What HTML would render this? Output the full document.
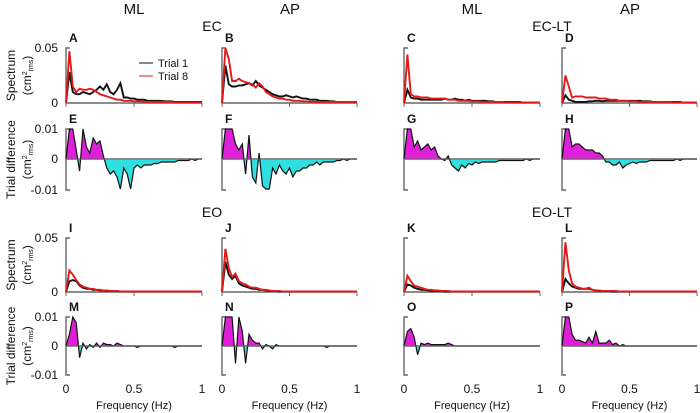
<!DOCTYPE html>
<html><head><meta charset="utf-8"><style>
body{margin:0;background:#fff}
svg{display:block;font-family:"Liberation Sans",sans-serif}
</style></head><body>
<svg id="fig" width="700" height="413" viewBox="0 0 700 413">
<g id="static" font-size="15" fill="#111" text-anchor="middle">
<text x="134" y="14">ML</text>
<text x="290" y="14">AP</text>
<text x="472" y="14">ML</text>
<text x="630" y="14">AP</text>
<text x="212" y="31" font-size="14">EC</text>
<text x="552" y="31" font-size="14">EC-LT</text>
<text x="212" y="217" font-size="14">EO</text>
<text x="552" y="217" font-size="14">EO-LT</text>
</g>
</svg>
<script>
// values in units of 1e-3 cm^2, frequency 0..1 step 0.025
const freqs = Array.from({length:41},(_,i)=>i*0.025);
const specA1=[0,28,10,8,8,10,9,8,10,12,15,12,17,10,8,12,18,5,5,4,4,3,3,3,2,2,2,2,2,1.5,1.5,1.5,1,1,1,1,1,1,1,1,1];
const specA8=[0,47,15,10,13,12,12,13,12,10,8,7,6,5,4,3,3,2,2,2,1.5,1.5,1.5,1,1,1,1,1,1,1,1,1,0.5,0.5,0.5,0.5,0.5,0.5,0.5,0.5,0.5];
const specB1=[0,34,17,15,15,16,16,17,18,16,20,16,14,12,10,8,7,6,6,7,6,5,6,5,4,4,3,3,3,2,2,2,1.5,1.5,1,1,1,1,1,1,1];
const specB8=[0,50,40,20,20,22,20,19,18,17,14,18,15,10,8,6,5,4,4,3,3,2,2,2,1.5,1.5,1,1,1,1,1,1,1,1,1,1,1,1,1,1,1];
const specC1=[0,12,5,4,4,3,3,3,3,3,3,3,4,3,3,4,3,3,2,3,2,2,2,2,2,1.5,1.5,1,1,1,1,1,1,1,1,0.5,0.5,0.5,0.5,0.5,0.5];
const specC8=[0,44,8,6,6,5,5,5,4,4,4,4,4,3,3,3,2,2,2,2,1.5,1.5,1.5,1,1,1,1,1,1,1,0.5,0.5,0.5,0.5,0.5,0.5,0.5,0.5,0.5,0.5,0.5];
const specD1=[0,7,3,2,1,1,1,1,1.5,1.5,2,2,1.5,2,2,2,2,2,2,2,2,2,2,2,1.5,1.5,1.5,1,1,1,1,1,1,1,1,1,0.5,0.5,0.5,0.5,0.5];
const specD8=[0,25,15,5,6,6,6,5,5,5,5,4,4,4,3,3,3,2,2,2,1.5,1.5,1.5,1,1,1,1,1,1,1,1,1,1,0.5,0.5,0.5,0.5,0.5,0.5,0.5,0.5];
const specI1=[0,10,11,10,6,4,3,3,2,2,1.5,1.5,1,1,1,1,0.5,0.5,0.5,0.5,0.5,0.5,0.5,0.5,0.5,0.5,0.5,0.5,0.5,0.5,0.5,0.5,0.5,0.5,0.5,0.5,0.5,0.5,0.5,0.5,0.5];
const specI8=[0,20,16,11,7,5,4,3,3,2,2,1.5,1.5,1,1,1,0.5,0.5,0.5,0.5,0.5,0.5,0.5,0.5,0.5,0.5,0.5,0.5,0.5,0.5,0.5,0.5,0.5,0.5,0.5,0.5,0.5,0.5,0.5,0.5,0.5];
const specJ1=[0,28,16,12,15,8,6,5,4,3,3,2,2,1.5,1,1,1,0.5,0.5,0.5,0.5,0.5,0.5,0.5,0.5,0.5,0.5,0.5,0.5,0.5,0.5,0.5,0.5,0.5,0.5,0.5,0.5,0.5,0.5,0.5,0.5];
const specJ8=[0,40,22,14,17,10,8,7,5,4,4,3,2,2,1.5,1,1,1,0.5,0.5,0.5,0.5,0.5,0.5,0.5,0.5,0.5,0.5,0.5,0.5,0.5,0.5,0.5,0.5,0.5,0.5,0.5,0.5,0.5,0.5,0.5];
const specK1=[0,7,6,4,3,2,2,1.5,1,1,1,1,0.5,0.5,0.5,0.5,0.5,0.5,0.5,0.5,0.5,0.5,0.5,0.5,0.5,0.5,0.5,0.5,0.5,0.5,0.5,0.5,0.5,0.5,0.5,0.5,0.5,0.5,0.5,0.5,0.5];
const specK8=[0,15,10,6,5,4,3,2,2,1.5,1.5,1,1,1,0.5,0.5,0.5,0.5,0.5,0.5,0.5,0.5,0.5,0.5,0.5,0.5,0.5,0.5,0.5,0.5,0.5,0.5,0.5,0.5,0.5,0.5,0.5,0.5,0.5,0.5,0.5];
const specL1=[0,12,8,5,4,3,3,3,3,2,1.5,1,1,1,1,0.5,0.5,0.5,0.5,0.5,0.5,0.5,0.5,0.5,0.5,0.5,0.5,0.5,0.5,0.5,0.5,0.5,0.5,0.5,0.5,0.5,0.5,0.5,0.5,0.5,0.5];
const specL8=[0,46,20,8,5,4,3,3,4,2,1.5,1.5,1,1,1,1,1,0.5,0.5,0.5,0.5,0.5,0.5,0.5,0.5,0.5,0.5,0.5,0.5,0.5,0.5,0.5,0.5,0.5,0.5,0.5,0.5,0.5,0.5,0.5,0.5];
const diffE=[0,10,10,3,-4,10,4,2,7,5,6,1,-3,-5,-4,-6,-10,-3,-5,-10,-3,-2,-3,-2,-2,-2,-1.5,-1.5,-1,-1,-1,-1,-1,-0.5,-0.5,-0.5,-0.5,0,-0.5,0,0];
const diffF=[0,10,10,10,5,3,5,-5,8,-6,-8,2,-9,-10,-10,-3,-5,-2,-4,-5,-3,-6,-4,-4,-3,-3,-2,-2,-1,-2,-1,-1,-1,-1,-0.5,-0.5,0,-0.5,0,0,0];
const diffG=[0,10,10,4,6,3,4,5,3,4,1,0,-0.5,1,-2,-3,-4,-2,-3,-1.5,-2,-1,-1.5,-1,-1,-1,-1,-1,-0.5,-0.5,-0.5,-0.5,-0.5,-0.5,-0.5,-0.5,0,-0.5,0,0,0];
const diffH=[0,10,10,4,5,5,4,3,3,3,2,2,1,-1,-1,-2,-2,-1,-3,-2,-1.5,-1,-1.5,-1,-1,-1,-0.5,-0.5,-0.5,-0.5,-0.5,-0.5,-0.5,-0.5,0,-0.5,0,0,0,0,0];
const diffM=[0,4,10,8,-4,1,-1,0.5,-0.5,1,-0.5,1,0.5,0.5,0,1,0.5,0,0,0,0,-0.5,0,0,0,0,0,0,0,0,0,0,-0.5,0,0,0,0,0,0,0,0];
const diffN=[0,10,10,10,-6,10,5,-6,4,2,1,1,-1,0.5,0,-1,0.5,0,0,0,0,0,0,0,0,0,0,0,0,0,0,-0.5,0,0,0,0,0,0,0,0,0];
const diffO=[0,5,6,3,-3,1,0.5,1,0.5,0.5,0.5,0.5,0.5,1,0.5,0,0,0,0,0,0,0,0,0,0,0,0,0,0,0,0,0,0,0,0,0,0,0,0,0,0];
const diffP=[0,10,10,4,2,2,1.5,1,3,1,5,1,1,1,2,0.5,1,0,0.5,0,0,0,0,0,0,0,0,0,0,0,0,0,0,0,0,0,0,0,0,0,0];
const xTicks=[0,0.5,1];
const specTicks=["0","0.05"];
const diffTicks=["-0.01","0","0.01"];

const NS="http://www.w3.org/2000/svg";
const svg=document.getElementById('fig');
function mk(tag,attrs,parent){const e=document.createElementNS(NS,tag);for(const k in attrs)e.setAttribute(k,attrs[k]);(parent||svg).appendChild(e);return e;}
const cols=[{x0:66,x1:202},{x0:222,x1:357},{x0:404,x1:540},{x0:562,x1:697}];
const rows=[{type:'s',top:48,zero:103},{type:'d',top:129,zero:159,bot:190},{type:'s',top:238,zero:292},{type:'d',top:317,zero:346,bot:375}];
const panels=[
 [['A',specA1,specA8],['B',specB1,specB8],['C',specC1,specC8],['D',specD1,specD8]],
 [['E',diffE],['F',diffF],['G',diffG],['H',diffH]],
 [['I',specI1,specI8],['J',specJ1,specJ8],['K',specK1,specK8],['L',specL1,specL8]],
 [['M',diffM],['N',diffN],['O',diffO],['P',diffP]]];
let clipId=0;
rows.forEach((r,ri)=>{cols.forEach((c,ci)=>{
 const p=panels[ri][ci];
 const g=mk('g',{});
 
 
 const xs=f=>c.x0+f*(c.x1-c.x0);
 let ys;
 if(r.type==='s'){ys=v=>r.zero-Math.min(v,50)/50*(r.zero-r.top);}
 else{ys=v=>r.zero-Math.max(-10,Math.min(10,v))/10*(r.zero-r.top);}
 const ybot=r.type==='s'?r.zero:r.bot;
 mk('path',{d:`M${c.x0+4} ${r.top}H${c.x0}V${ybot}`+(r.type==='d'?`H${c.x0+4}`:''),fill:'none',stroke:'#666','stroke-width':1.4},g);
 mk('line',{x1:c.x0,x2:c.x1,y1:r.zero,y2:r.zero,stroke:'#666','stroke-width':1.4},g);
 if(r.type==='s'){xTicks.forEach(t=>{const tk=mk('line',{x1:xs(t),x2:xs(t),y1:r.zero,y2:r.zero+4,stroke:'#666','stroke-width':1},g);});}
 if(r.type==='s'){
  [[p[1],'#111'],[p[2],'#e41a1a']].forEach(([arr,col],si)=>{
   const d=arr.map((v,i)=>(i?'L':'M')+xs(freqs[i]).toFixed(1)+' '+ys(v).toFixed(1)).join('');
   const ln=mk('path',{d,fill:'none',stroke:col,'stroke-width':1.9},g);
   
   
  });
 } else {
  const arr=p[1];
  const line=arr.map((v,i)=>(i?'L':'M')+xs(freqs[i]).toFixed(1)+' '+ys(v).toFixed(1)).join('');
  const area=line+`L${xs(freqs[freqs.length-1])} ${r.zero}L${xs(0)} ${r.zero}Z`;
  const id1='cp'+(clipId++),id2='cp'+(clipId++);
  const cp1=mk('clipPath',{id:id1},g);mk('rect',{x:c.x0,y:r.top-2,width:c.x1-c.x0,height:r.zero-r.top+2},cp1);
  const cp2=mk('clipPath',{id:id2},g);mk('rect',{x:c.x0,y:r.zero,width:c.x1-c.x0,height:r.bot-r.zero+2},cp2);
  const a1=mk('path',{d:area,fill:'#e020d8','clip-path':`url(#${id1})`},g);
  
  const a2=mk('path',{d:area,fill:'#30e0e0','clip-path':`url(#${id2})`},g);
  
  const l=mk('path',{d:line,fill:'none',stroke:'#111','stroke-width':1.2},g);
  
  mk('line',{x1:c.x0,x2:c.x1,y1:r.zero,y2:r.zero,stroke:'#666','stroke-width':1},g);
 }
 const lab=mk('text',{x:c.x0+3,y:r.top-6,'font-size':12,'font-weight':'bold',fill:'#111'},g);
 lab.textContent=p[0];
 
 
 if(ci===0){
  const tk=r.type==='s'?[[specTicks[0],r.zero],[specTicks[1],r.top]]:[[diffTicks[0],r.bot],[diffTicks[1],r.zero],[diffTicks[2],r.top]];
  tk.forEach(([t,y])=>{const e=mk('text',{x:58,y:y+4,'font-size':12,'text-anchor':'end',fill:'#111'},g);e.textContent=t;});
  const mid=r.type==='s'?(r.top+r.zero)/2:(r.top+r.bot)/2;
  const t1=mk('text',{transform:`translate(15 ${mid}) rotate(-90)`,'text-anchor':'middle','font-size':12,fill:'#111'},g);
  t1.textContent=r.type==='s'?'Spectrum':'Trial difference';
  
  const t2=mk('text',{transform:`translate(31 ${mid}) rotate(-90)`,'text-anchor':'middle','font-size':12,fill:'#111'},g);
  t2.innerHTML='(cm<tspan font-size="7" dy="-4">2</tspan><tspan font-size="7" dy="6">rms</tspan><tspan dy="-2">)</tspan>';
  
 }
 if(ri===3){
  xTicks.forEach(t=>{const e=mk('text',{x:xs(t),y:393,'font-size':12,'text-anchor':'middle',fill:'#111'},g);e.textContent=String(t);});
  const xt=mk('text',{x:(c.x0+c.x1)/2,y:409,'font-size':11,'text-anchor':'middle',fill:'#111'},g);
  xt.textContent='Frequency (Hz)';
  
 }
});});
const lg=mk('g',{});


mk('line',{x1:139,x2:153,y1:63,y2:63,stroke:'#111','stroke-width':1},lg);
mk('line',{x1:139,x2:153,y1:76,y2:76,stroke:'#e41a1a','stroke-width':1},lg);
const lt1=mk('text',{x:158,y:67,'font-size':11,fill:'#111'},lg);lt1.textContent='Trial 1';


const lt2=mk('text',{x:158,y:80,'font-size':11,fill:'#111'},lg);lt2.textContent='Trial 8';


</script>
</body></html>
